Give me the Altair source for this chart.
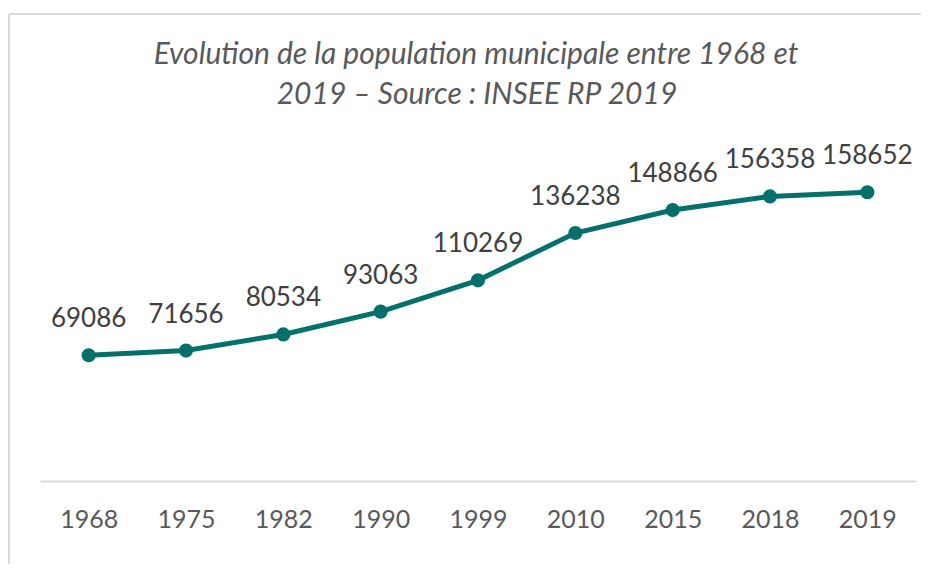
import altair as alt
import pandas as pd

years = ["1968", "1975", "1982", "1990", "1999", "2010", "2015", "2018", "2019"]
population = [69086, 71656, 80534, 93063, 110269, 136238, 148866, 156358, 158652]
title_lines = ["Evolution de la population municipale entre 1968 et",
               "2019 \u2013 Source : INSEE RP 2019"]

df = pd.DataFrame({"annee": years, "pop": population})

W, H = 876, 364
TEAL = "#03706c"
FONT = "Lato"

x = alt.X("annee:O", sort=years, title=None,
          axis=alt.Axis(labelAngle=0, ticks=False, domainColor="#d9d9d9", domainWidth=2,
                        labelFont=FONT, labelFontSize=25, labelColor="#595959",
                        labelPadding=26, grid=False))
y = alt.Y("pop:Q", scale=alt.Scale(domain=[0, 200000], nice=False), axis=None)

base = alt.Chart(df)

line = base.mark_line(color=TEAL, strokeWidth=5).encode(x=x, y=y)
pts = base.mark_point(color=TEAL, filled=True, size=200, opacity=1).encode(x=x, y=y)
labels = base.mark_text(font=FONT, fontSize=26, color="#404040", baseline="middle",
                        align="center", dy=-36).encode(x=x, y=y, text="pop:Q")

one = pd.DataFrame({"d": [0]})
frame_left = alt.Chart(one).mark_rule(color="#d9d9d9", strokeWidth=2).encode(
    x=alt.value(-31), y=alt.value(-103), y2=alt.value(H + 200))
frame_top = alt.Chart(one).mark_rule(color="#d9d9d9", strokeWidth=2).encode(
    x=alt.value(-31), x2=alt.value(W + 100), y=alt.value(-103))

title_style = dict(font=FONT, fontSize=30, fontStyle="italic", color="#595959",
                   align="center", baseline="middle")
title1 = alt.Chart(one).mark_text(**title_style).encode(
    x=alt.value(436), y=alt.value(-62), text=alt.value(title_lines[0]))
title2 = alt.Chart(one).mark_text(**title_style).encode(
    x=alt.value(437), y=alt.value(-22), text=alt.value(title_lines[1]))

chart = alt.layer(frame_left, frame_top, title1, title2, line, pts, labels).properties(
    width=W, height=H,
    background="white",
    autosize=alt.AutoSizeParams(type="none"),
    padding={"left": 32, "top": 109, "right": 5, "bottom": 83},
).configure_view(strokeWidth=0)

chart.save("out.html", embed_options={"renderer": "svg", "actions": False})
